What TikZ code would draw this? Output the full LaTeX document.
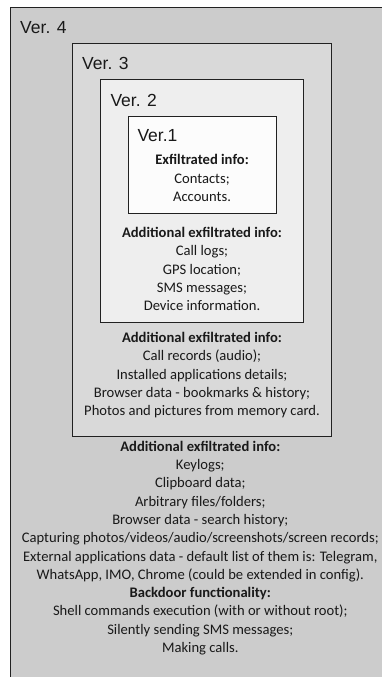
\documentclass[tikz,border=0pt]{standalone}
\usepackage{fontspec}
\setmainfont{Carlito}
\newfontfamily\labelfont{Liberation Sans}
\definecolor{fillfour}{rgb}{0.80,0.80,0.80}
\definecolor{fillthree}{rgb}{0.85,0.85,0.85}
\definecolor{filltwo}{rgb}{0.935,0.935,0.935}
\definecolor{fillone}{rgb}{0.99,0.99,0.99}
\definecolor{boxline}{rgb}{0.13,0.13,0.13}
\definecolor{ink}{rgb}{0.1,0.1,0.1}
\tikzset{
  verbox/.style={draw=boxline, line width=1pt},
  verlabel/.style={anchor=base west, inner sep=0pt, text=ink,
    font=\labelfont\fontsize{17.5}{20}\selectfont},
  infotext/.style={anchor=base, inner sep=0pt, align=center, text=ink,
    font=\fontsize{14.6}{18.3}\selectfont},
}
\begin{document}
\begin{tikzpicture}[x=1pt, y=-1pt]
\useasboundingbox (0,0) rectangle (382,677);
\fill[white] (0,0) rectangle (382,677);
% nested version boxes
\path[verbox, fill=fillfour]  (10.5,7.5) rectangle (420,720);
\path[verbox, fill=fillthree] (72.8,43.5) rectangle (331,436);
\path[verbox, fill=filltwo]   (100.7,79.5) rectangle (303.3,322.7);
\path[verbox, fill=fillone]   (128,116) rectangle (276.3,213.3);
% version labels
\node[verlabel] (v4) at (20,33.3) {Ver. 4};
\node[verlabel] (v3) at (82,69.3) {Ver. 3};
\node[verlabel] (v2) at (110.3,106) {Ver. 2};
\node[verlabel] (v1) at (137.3,141.7) {Ver.1};
% contents of each version (anchored at the baseline of the last line)
\node[infotext] (t1) at (202,201.5) {\textbf{Exfiltrated info:}\\Contacts;\\Accounts.};
\node[infotext] (t2) at (202,310.8) {\textbf{Additional exfiltrated info:}\\Call logs;\\GPS location;\\SMS messages;\\Device information.};
\node[infotext] (t3) at (202,415.8) {\textbf{Additional exfiltrated info:}\\Call records (audio);\\Installed applications details;\\Browser data - bookmarks \& history;\\Photos and pictures from memory card.};
\node[infotext] (t4) at (200.3,652.5) {\textbf{Additional exfiltrated info:}\\Keylogs;\\Clipboard data;\\Arbitrary files/folders;\\Browser data - search history;\\Capturing photos/videos/audio/screenshots/screen records;\\External applications data - default list of them is: Telegram,\\WhatsApp, IMO, Chrome (could be extended in config).\\\textbf{Backdoor functionality:}\\Shell commands execution (with or without root);\\Silently sending SMS messages;\\Making calls.};
\end{tikzpicture}
\end{document}
